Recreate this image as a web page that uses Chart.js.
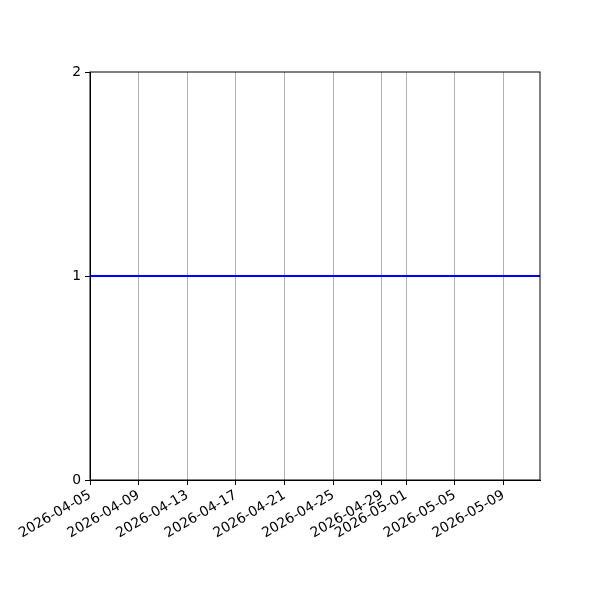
<!DOCTYPE html>
<html>
<head>
<meta charset="utf-8">
<script src="https://cdn.jsdelivr.net/npm/chart.js@4/dist/chart.umd.min.js"></script>
<style>
  html, body { margin: 0; padding: 0; background: #fff; }
  #wrap { width: 600px; height: 600px; }
</style>
</head>
<body>
<div id="wrap"><canvas id="chart"></canvas></div>
<script>
// ========== DATA ==========
const startDate = '2026-04-05';
const endDate = '2026-05-12';
const dates = [
    '2026-04-05', '2026-04-06', '2026-04-07', '2026-04-08', '2026-04-09', '2026-04-10',
    '2026-04-11', '2026-04-12', '2026-04-13', '2026-04-14', '2026-04-15', '2026-04-16',
    '2026-04-17', '2026-04-18', '2026-04-19', '2026-04-20', '2026-04-21', '2026-04-22',
    '2026-04-23', '2026-04-24', '2026-04-25', '2026-04-26', '2026-04-27', '2026-04-28',
    '2026-04-29', '2026-04-30', '2026-05-01', '2026-05-02', '2026-05-03', '2026-05-04',
    '2026-05-05', '2026-05-06', '2026-05-07', '2026-05-08', '2026-05-09', '2026-05-10',
    '2026-05-11', '2026-05-12'
];
const values = [
    1, 1, 1, 1, 1, 1, 1, 1, 1, 1, 1, 1, 1, 1, 1, 1, 1, 1, 1,
    1, 1, 1, 1, 1, 1, 1, 1, 1, 1, 1, 1, 1, 1, 1, 1, 1, 1, 1
];
const xTickLabels = [
    '2026-04-05', '2026-04-09', '2026-04-13', '2026-04-17', '2026-04-21',
    '2026-04-25', '2026-04-29', '2026-05-01', '2026-05-05', '2026-05-09'
];
const yTicks = [0, 1, 2];

// days since start (dates are parsed as UTC)
const DAY = 86400000;
const t0 = Date.parse(startDate);
const dayOf = s => (Date.parse(s) - t0) / DAY;

const FONT = { family: 'DejaVu Sans', size: 13.9 };

// black frame around the plot area (top and right sides)
const framePlugin = {
    id: 'frame',
    afterDraw(chart) {
        const { ctx, chartArea: a } = chart;
        ctx.save();
        ctx.strokeStyle = '#000';
        ctx.lineWidth = 1;
        ctx.strokeRect(a.left, a.top, a.right - a.left, a.bottom - a.top);
        ctx.restore();
    }
};

new Chart(document.getElementById('chart'), {
    type: 'line',
    data: {
        datasets: [{
            data: dates.map((d, i) => ({ x: dayOf(d), y: values[i] })),
            borderColor: '#0000ff',
            borderWidth: 2,
            pointRadius: 0,
            fill: false,
            tension: 0
        }]
    },
    options: {
        responsive: true, maintainAspectRatio: false, animation: false,
        layout: { padding: { top: 72, right: 60, left: 0, bottom: 0 } },
        plugins: { legend: { display: false }, tooltip: { enabled: false } },
        scales: {
            x: {
                type: 'linear',
                min: dayOf(startDate), max: dayOf(endDate),
                afterBuildTicks: axis => { axis.ticks = xTickLabels.map(s => ({ value: dayOf(s) })); },
                afterFit: axis => { axis.height = 120; },
                ticks: {
                    autoSkip: false, minRotation: 30, maxRotation: 30,
                    color: '#000', font: FONT, padding: 2,
                    callback: (v) => xTickLabels.find(s => dayOf(s) === v) || ''
                },
                grid: { color: '#b0b0b0', lineWidth: 1, tickColor: '#000', tickLength: 5, drawOnChartArea: true },
                border: { color: '#000', width: 1 }
            },
            y: {
                min: 0, max: 2,
                afterBuildTicks: axis => { axis.ticks = yTicks.map(v => ({ value: v })); },
                afterFit: axis => { axis.width = 90; },
                ticks: { color: '#000', font: FONT, padding: 4 },
                grid: { drawOnChartArea: false, tickColor: '#000', tickLength: 5 },
                border: { color: '#000', width: 1 }
            }
        }
    },
    plugins: [framePlugin]
});
</script>
</body>
</html>
